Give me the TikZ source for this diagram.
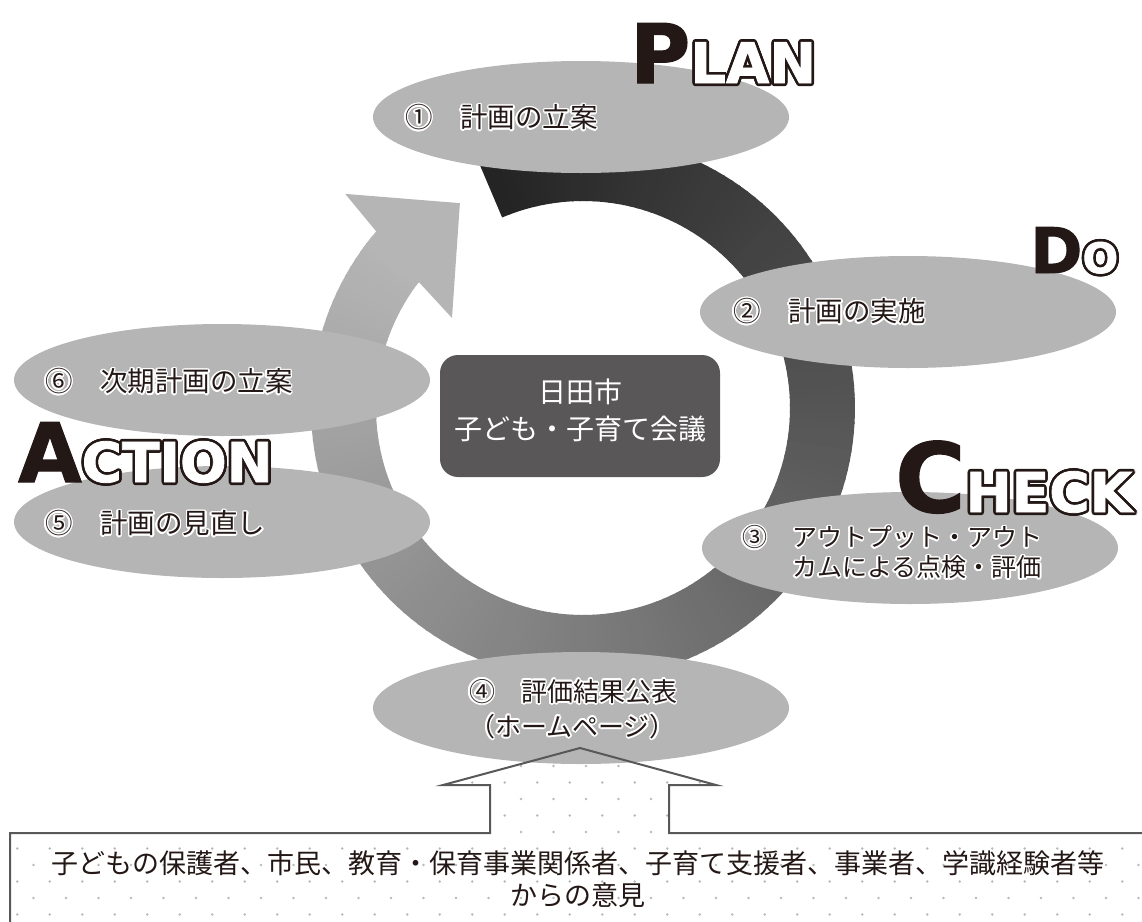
\documentclass[tikz,border=0pt]{standalone}
\usepackage{fontspec}
\setmainfont{Noto Sans CJK JP}
\newfontfamily\pdcafont{DejaVu Sans}[BoldFeatures={FakeBold=1.5}]
\usepackage[copies]{contour}
\usetikzlibrary{shapes.geometric}

\definecolor{ovalgray}{RGB}{181,181,182}
\definecolor{boxgray}{RGB}{89,87,87}
\definecolor{inkdark}{RGB}{35,24,21}
\definecolor{dotgray}{RGB}{185,185,185}

% big first letter + outlined rest of the word
\newcommand{\pdcaword}[4]{%
  {\fontsize{#1}{#1}\selectfont #2}%
  {\fontsize{#3}{#3}\selectfont\color{white}\contourlength{2.6pt}\contour{inkdark}{#4}}}
% dark text with a white halo
\newcommand{\halo}[1]{\contourlength{1.6pt}\contour{white}{#1}}

\begin{document}
\begin{tikzpicture}[
  x=1pt, y=-1pt,
  oval/.style={ellipse, fill=ovalgray, minimum width=416, minimum height=112, inner sep=0},
  ovaltext/.style={anchor=west, inner sep=0, text=inkdark, align=left,
    font=\fontsize{27.5}{31}\selectfont},
  bigword/.style={anchor=base west, inner sep=0, text=inkdark, font=\pdcafont\bfseries},
  councilbox/.style={rectangle, rounded corners=18, fill=boxgray,
    minimum width=280, minimum height=122},
  outline/.style={draw=boxgray, line width=2, line join=miter}
]
\useasboundingbox (0,0) rectangle (1142,921);

% ── dotted field: box + upward arrow ──────────────────────────
\begin{scope}
  \clip (10,833) -- (490,833) -- (490,785) -- (443,785) -- (580,748)
    -- (716,785) -- (669,785) -- (669,833) -- (1150,833) -- (1150,930)
    -- (10,930) -- cycle;
  \foreach \j in {0,...,10}
    \foreach \i in {0,...,35}
      \fill[dotgray] ({1+16.25*mod(\j,2)+32.5*\i}, {766+16.5*\j}) circle[radius=1.4];
\end{scope}

% ── ring arrow, dark at PLAN, light at the arrow head ────────
\begin{scope}[shift={(583,408)}]
  \foreach \a [evaluate=\a as \p using {14+0.1727*(\a+113)}] in {-113,-111,...,217}
    \fill[white!\p!black]
      (\a:272) -- (\a+2.4:272) -- (\a+2.4:207) -- (\a:207) -- cycle;
  % arrow head
  \fill[white!71!black] (216:272) -- (220.5:272) -- (222:320) -- (239:239)
    -- (214.5:159) -- (217.5:207) -- (216:207) -- cycle;
\end{scope}

% ── steps ─────────────────────────────────────────────────────
\node[oval] (plan)   at (581,117) {};
\node[oval] (do)     at (908,312) {};
\node[oval] (check)  at (910,548) {};
\node[oval] (report) at (581,708) {};
\node[oval] (act)    at (222,522) {};
\node[oval] (next)   at (222,380) {};

\node[ovaltext] (plantext)   at (405,118) {\halo{①　計画の立案}};
\node[ovaltext] (dotext)     at (733,312) {\halo{②　計画の実施}};
\node[ovaltext, font=\fontsize{25}{30}\selectfont] (checktext) at (742,553)
  {\halo{③　アウトプット・アウト}\\\hspace*{2em}\halo{カムによる点検・評価}};
\node[ovaltext, font=\fontsize{26}{35}\selectfont] (reporttext) at (469,710)
  {\halo{④　評価結果公表}\\\halo{（ホームページ）}};
\node[ovaltext] (acttext)    at (45,524)  {\halo{⑤　計画の見直し}};
\node[ovaltext] (nexttext)   at (45,382)  {\halo{⑥　次期計画の立案}};

% ── PDCA words ────────────────────────────────────────────────
\node[bigword] (wplan)   at (630,83)  {\pdcaword{82}{P}{56}{LAN}};
\node[bigword] (wdo)     at (1030,273) {\pdcaword{63}{D}{42}{O}};
\node[bigword] (waction) at (18,482)  {\pdcaword{82}{A}{55}{CTION}};
\node[bigword] (wcheck)  at (895,512) {\pdcaword{96}{C}{55}{HECK}};

% ── centre ────────────────────────────────────────────────────
\node[councilbox] (council) at (580,416) {};
\node[text=white, align=center, font=\fontsize{28}{37}\selectfont] (counciltext)
  at (580,410) {日田市\\子ども・子育て会議};

% ── opinions box and arrow ───────────────────────────────────
\draw[outline] (1150,833) -- (669,833) -- (669,785) -- (716,785) -- (580,748)
  -- (443,785) -- (490,785) -- (490,833) -- (10,833) -- (10,930);
\node[text=inkdark, align=center, font=\fontsize{27}{32}\selectfont] (opinions) at (578,879)
  {子どもの保護者、市民、教育・保育事業関係者、子育て支援者、事業者、学識経験者等\\からの意見};

\end{tikzpicture}
\end{document}
